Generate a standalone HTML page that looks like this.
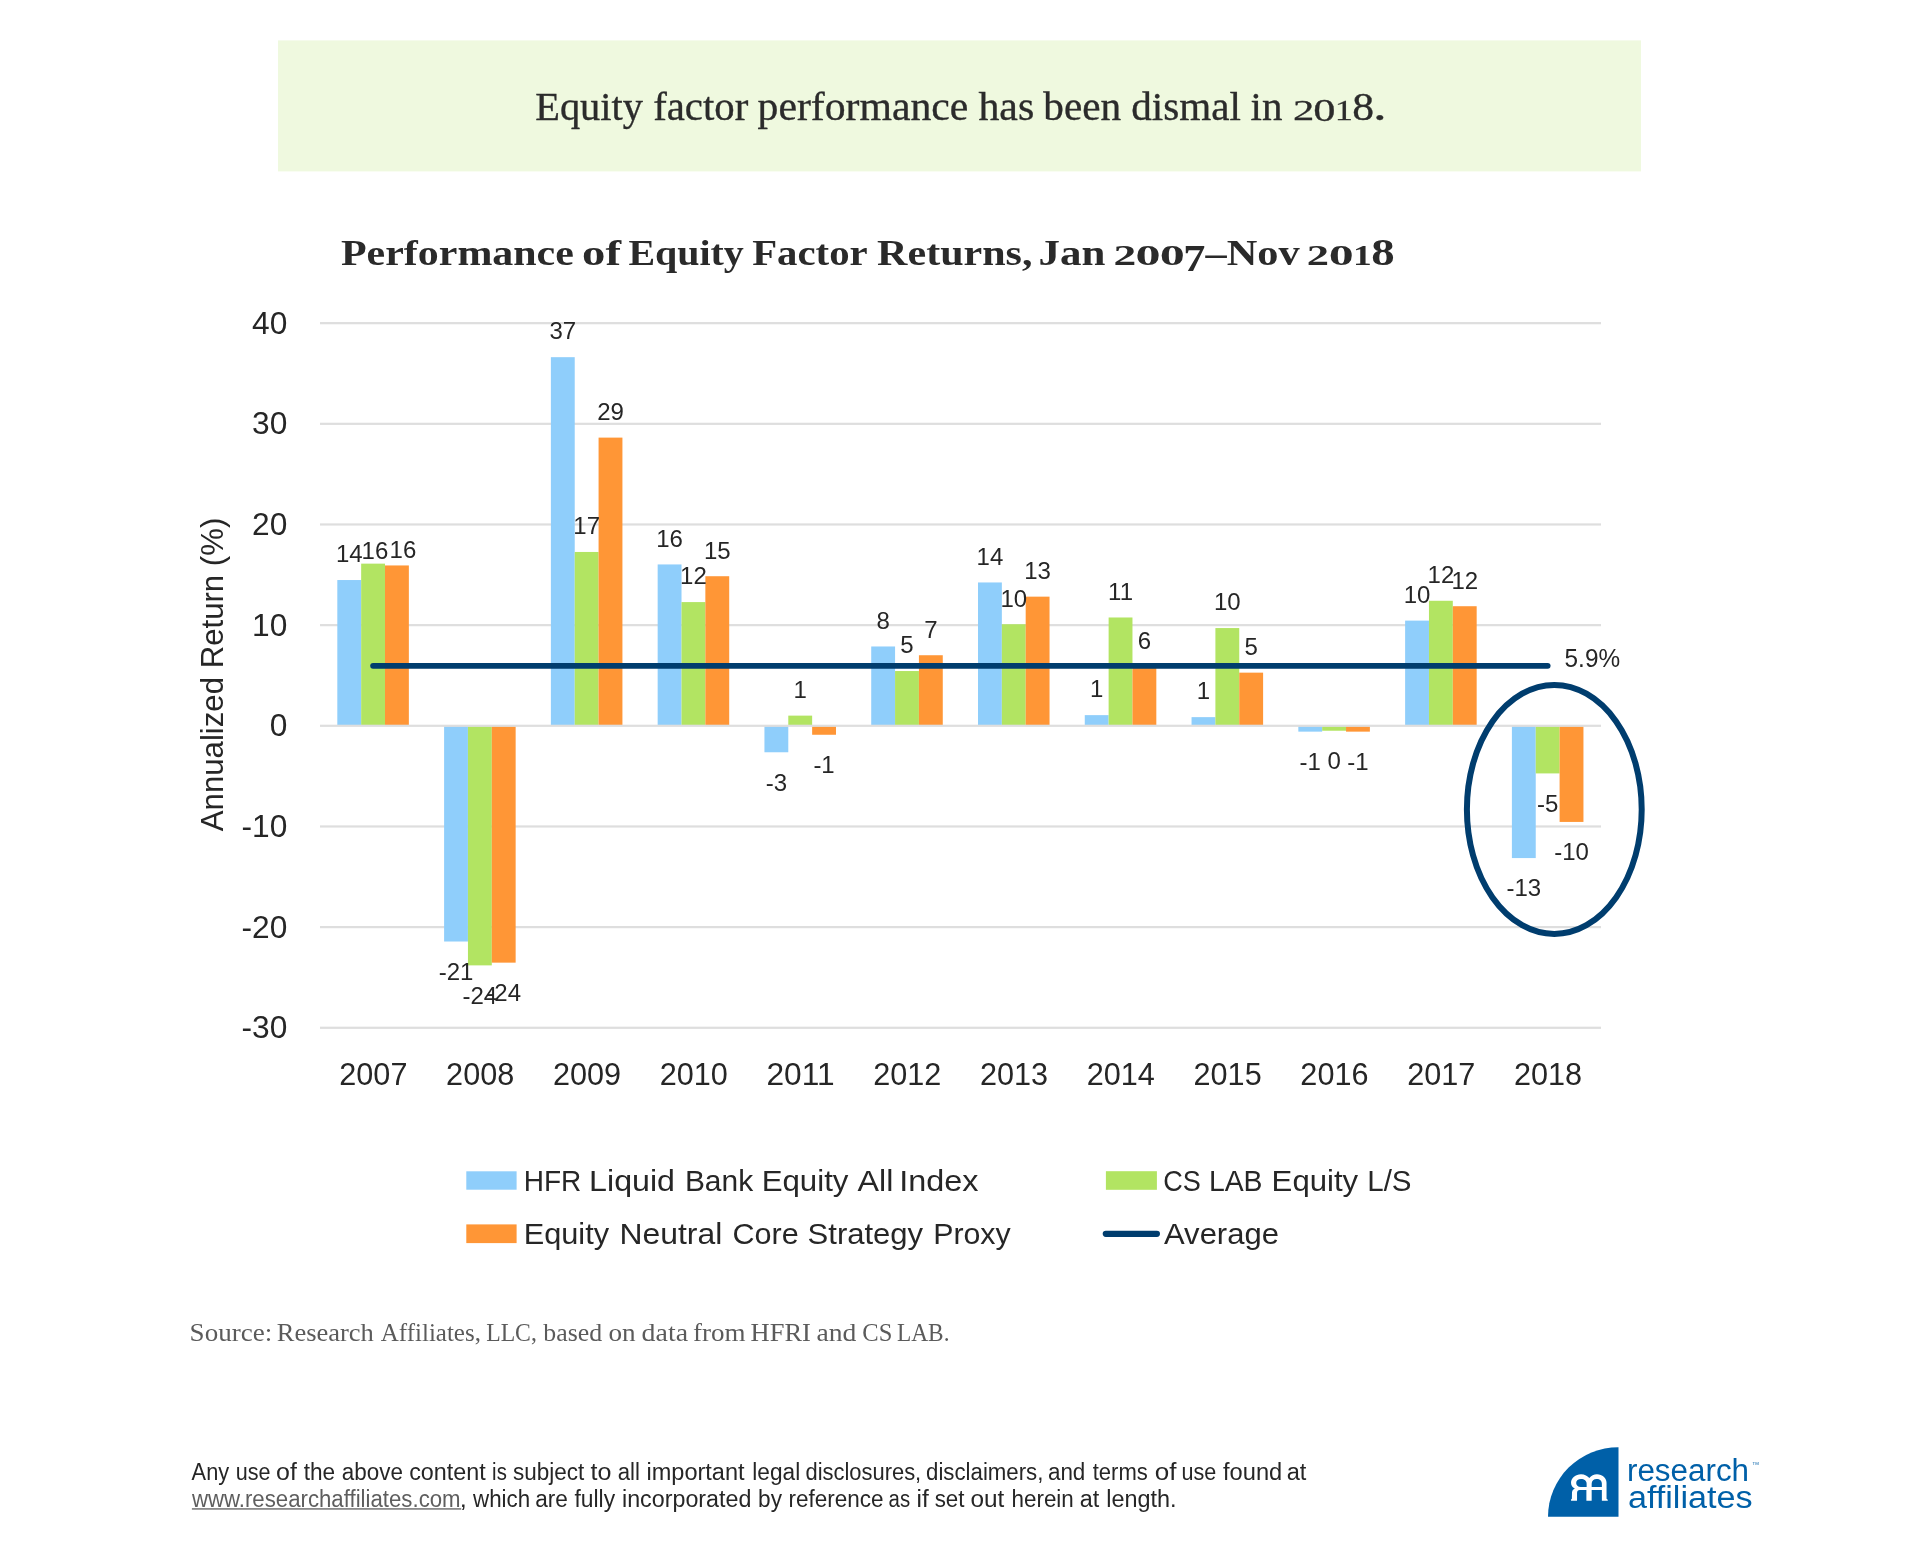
<!DOCTYPE html><html><head><meta charset="utf-8"><title>Performance of Equity Factor Returns</title><style>html,body{margin:0;padding:0;background:#fff;width:1920px;height:1546px;overflow:hidden}svg{display:block;will-change:transform}</style></head><body>
<svg width="1920" height="1546" viewBox="0 0 1920 1546">
<rect x="278" y="40.4" width="1363" height="131" fill="#eff9df"/>
<text x="535.24" y="120" font-family="'Liberation Serif', serif" font-size="40" font-weight="normal" fill="#2b2b2b" textLength="107.73" lengthAdjust="spacingAndGlyphs" stroke="#2b2b2b" stroke-width="0.35">Equity</text>
<text x="653.18" y="120" font-family="'Liberation Serif', serif" font-size="40" font-weight="normal" fill="#2b2b2b" textLength="95.09" lengthAdjust="spacingAndGlyphs" stroke="#2b2b2b" stroke-width="0.35">factor</text>
<text x="757.56" y="120" font-family="'Liberation Serif', serif" font-size="40" font-weight="normal" fill="#2b2b2b" textLength="210.78" lengthAdjust="spacingAndGlyphs" stroke="#2b2b2b" stroke-width="0.35">performance</text>
<text x="978.4" y="120" font-family="'Liberation Serif', serif" font-size="40" font-weight="normal" fill="#2b2b2b" textLength="55.79" lengthAdjust="spacingAndGlyphs" stroke="#2b2b2b" stroke-width="0.35">has</text>
<text x="1043.3" y="120" font-family="'Liberation Serif', serif" font-size="40" font-weight="normal" fill="#2b2b2b" textLength="77.83" lengthAdjust="spacingAndGlyphs" stroke="#2b2b2b" stroke-width="0.35">been</text>
<text x="1131.27" y="120" font-family="'Liberation Serif', serif" font-size="40" font-weight="normal" fill="#2b2b2b" textLength="109.62" lengthAdjust="spacingAndGlyphs" stroke="#2b2b2b" stroke-width="0.35">dismal</text>
<text x="1250.58" y="120" font-family="'Liberation Serif', serif" font-size="40" font-weight="normal" fill="#2b2b2b" textLength="31.85" lengthAdjust="spacingAndGlyphs" stroke="#2b2b2b" stroke-width="0.35">in</text>
<text x="1373.08" y="120" font-family="'Liberation Serif', serif" font-size="40" font-weight="normal" fill="#2b2b2b" textLength="13.75" lengthAdjust="spacingAndGlyphs" stroke="#2b2b2b" stroke-width="0.35">.</text>
<text x="341.0" y="264.8" font-family="'Liberation Serif', serif" font-size="36" font-weight="bold" fill="#2a2a2a" textLength="232.84" lengthAdjust="spacingAndGlyphs" >Performance</text>
<text x="582.1" y="264.8" font-family="'Liberation Serif', serif" font-size="36" font-weight="bold" fill="#2a2a2a" textLength="38.9" lengthAdjust="spacingAndGlyphs" >of</text>
<text x="628.4" y="264.8" font-family="'Liberation Serif', serif" font-size="36" font-weight="bold" fill="#2a2a2a" textLength="115.45" lengthAdjust="spacingAndGlyphs" >Equity</text>
<text x="752.2" y="264.8" font-family="'Liberation Serif', serif" font-size="36" font-weight="bold" fill="#2a2a2a" textLength="115.46" lengthAdjust="spacingAndGlyphs" >Factor</text>
<text x="877.1" y="264.8" font-family="'Liberation Serif', serif" font-size="36" font-weight="bold" fill="#2a2a2a" textLength="155.37" lengthAdjust="spacingAndGlyphs" >Returns,</text>
<text x="1038.51" y="264.8" font-family="'Liberation Serif', serif" font-size="36" font-weight="bold" fill="#2a2a2a" textLength="66.83" lengthAdjust="spacingAndGlyphs" >Jan</text>
<text x="1205.6" y="264.8" font-family="'Liberation Serif', serif" font-size="36" font-weight="bold" fill="#2a2a2a" textLength="94.1" lengthAdjust="spacingAndGlyphs" >–Nov</text>
<text stroke="#2b2b2b" stroke-width="0.35" transform="translate(1292.93,119.80) scale(1.0664,0.7438)" font-family="'Liberation Serif', serif" font-size="40" font-weight="normal" fill="#2b2b2b">2</text>
<text stroke="#2b2b2b" stroke-width="0.35" transform="translate(1313.21,120.50) scale(1.1119,0.7743)" font-family="'Liberation Serif', serif" font-size="40" font-weight="normal" fill="#2b2b2b">0</text>
<text stroke="#2b2b2b" stroke-width="0.35" transform="translate(1334.70,119.80) scale(0.9090,0.7460)" font-family="'Liberation Serif', serif" font-size="40" font-weight="normal" fill="#2b2b2b">1</text>
<text stroke="#2b2b2b" stroke-width="0.35" transform="translate(1352.14,120.40) scale(1.0912,1.0225)" font-family="'Liberation Serif', serif" font-size="40" font-weight="normal" fill="#2b2b2b">8</text>
<text transform="translate(1113.59,264.90) scale(1.2649,0.7971)" font-family="'Liberation Serif', serif" font-size="36" font-weight="bold" fill="#2a2a2a">2</text>
<text transform="translate(1135.59,265.31) scale(1.3927,0.8109)" font-family="'Liberation Serif', serif" font-size="36" font-weight="bold" fill="#2a2a2a">0</text>
<text transform="translate(1159.69,265.31) scale(1.3895,0.8109)" font-family="'Liberation Serif', serif" font-size="36" font-weight="bold" fill="#2a2a2a">0</text>
<text transform="translate(1183.37,271.10) scale(1.2281,1.0394)" font-family="'Liberation Serif', serif" font-size="36" font-weight="bold" fill="#2a2a2a">7</text>
<text transform="translate(1306.73,264.90) scale(1.2382,0.7971)" font-family="'Liberation Serif', serif" font-size="36" font-weight="bold" fill="#2a2a2a">2</text>
<text transform="translate(1328.80,265.22) scale(1.3829,0.8068)" font-family="'Liberation Serif', serif" font-size="36" font-weight="bold" fill="#2a2a2a">0</text>
<text transform="translate(1353.00,264.90) scale(1.0412,0.7995)" font-family="'Liberation Serif', serif" font-size="36" font-weight="bold" fill="#2a2a2a">1</text>
<text transform="translate(1371.15,265.33) scale(1.3005,1.0579)" font-family="'Liberation Serif', serif" font-size="36" font-weight="bold" fill="#2a2a2a">8</text>
<rect x="320" y="322.06" width="1281" height="2.2" fill="#dedede"/>
<rect x="320" y="422.72" width="1281" height="2.2" fill="#dedede"/>
<rect x="320" y="523.38" width="1281" height="2.2" fill="#dedede"/>
<rect x="320" y="624.04" width="1281" height="2.2" fill="#dedede"/>
<rect x="320" y="825.36" width="1281" height="2.2" fill="#dedede"/>
<rect x="320" y="926.02" width="1281" height="2.2" fill="#dedede"/>
<rect x="320" y="1026.68" width="1281" height="2.2" fill="#dedede"/>
<text x="287.3" y="333.76" font-family="'Liberation Sans', sans-serif" font-size="31.7" fill="#262626" text-anchor="end">40</text>
<text x="287.3" y="434.42" font-family="'Liberation Sans', sans-serif" font-size="31.7" fill="#262626" text-anchor="end">30</text>
<text x="287.3" y="535.08" font-family="'Liberation Sans', sans-serif" font-size="31.7" fill="#262626" text-anchor="end">20</text>
<text x="287.3" y="635.74" font-family="'Liberation Sans', sans-serif" font-size="31.7" fill="#262626" text-anchor="end">10</text>
<text x="287.3" y="736.40" font-family="'Liberation Sans', sans-serif" font-size="31.7" fill="#262626" text-anchor="end">0</text>
<text x="287.3" y="837.06" font-family="'Liberation Sans', sans-serif" font-size="31.7" fill="#262626" text-anchor="end">-10</text>
<text x="287.3" y="937.72" font-family="'Liberation Sans', sans-serif" font-size="31.7" fill="#262626" text-anchor="end">-20</text>
<text x="287.3" y="1038.38" font-family="'Liberation Sans', sans-serif" font-size="31.7" fill="#262626" text-anchor="end">-30</text>
<text transform="translate(223.3,0) rotate(-90)" x="-831.20" y="0" font-family="'Liberation Sans', sans-serif" font-size="31" fill="#262626" textLength="313.5" lengthAdjust="spacingAndGlyphs">Annualized Return (%)</text>
<rect x="337.31" y="580.04" width="23.85" height="145.76" fill="#8fcefb"/>
<rect x="361.16" y="563.64" width="23.85" height="162.16" fill="#b2e462"/>
<rect x="385.01" y="565.45" width="23.85" height="160.35" fill="#ff9636"/>
<rect x="444.10" y="725.80" width="23.85" height="215.71" fill="#8fcefb"/>
<rect x="467.95" y="725.80" width="23.85" height="239.57" fill="#b2e462"/>
<rect x="491.80" y="725.80" width="23.85" height="236.85" fill="#ff9636"/>
<rect x="550.88" y="357.18" width="23.85" height="368.62" fill="#8fcefb"/>
<rect x="574.73" y="551.96" width="23.85" height="173.84" fill="#b2e462"/>
<rect x="598.58" y="437.61" width="23.85" height="288.19" fill="#ff9636"/>
<rect x="657.66" y="564.44" width="23.85" height="161.36" fill="#8fcefb"/>
<rect x="681.51" y="602.09" width="23.85" height="123.71" fill="#b2e462"/>
<rect x="705.36" y="576.22" width="23.85" height="149.58" fill="#ff9636"/>
<rect x="764.44" y="725.80" width="23.85" height="26.47" fill="#8fcefb"/>
<rect x="788.29" y="715.63" width="23.85" height="10.17" fill="#b2e462"/>
<rect x="812.14" y="725.80" width="23.85" height="8.96" fill="#ff9636"/>
<rect x="871.22" y="646.48" width="23.85" height="79.32" fill="#8fcefb"/>
<rect x="895.07" y="671.04" width="23.85" height="54.76" fill="#b2e462"/>
<rect x="918.92" y="655.24" width="23.85" height="70.56" fill="#ff9636"/>
<rect x="978.00" y="582.46" width="23.85" height="143.34" fill="#8fcefb"/>
<rect x="1001.85" y="624.23" width="23.85" height="101.57" fill="#b2e462"/>
<rect x="1025.69" y="596.65" width="23.85" height="129.15" fill="#ff9636"/>
<rect x="1084.77" y="715.13" width="23.85" height="10.67" fill="#8fcefb"/>
<rect x="1108.62" y="617.49" width="23.85" height="108.31" fill="#b2e462"/>
<rect x="1132.47" y="666.21" width="23.85" height="59.59" fill="#ff9636"/>
<rect x="1191.55" y="717.14" width="23.85" height="8.66" fill="#8fcefb"/>
<rect x="1215.40" y="628.06" width="23.85" height="97.74" fill="#b2e462"/>
<rect x="1239.25" y="672.65" width="23.85" height="53.15" fill="#ff9636"/>
<rect x="1298.33" y="725.80" width="23.85" height="5.84" fill="#8fcefb"/>
<rect x="1322.18" y="725.80" width="23.85" height="4.93" fill="#b2e462"/>
<rect x="1346.03" y="725.80" width="23.85" height="5.84" fill="#ff9636"/>
<rect x="1405.12" y="620.61" width="23.85" height="105.19" fill="#8fcefb"/>
<rect x="1428.96" y="600.78" width="23.85" height="125.02" fill="#b2e462"/>
<rect x="1452.82" y="606.22" width="23.85" height="119.58" fill="#ff9636"/>
<rect x="1511.89" y="725.80" width="23.85" height="132.27" fill="#8fcefb"/>
<rect x="1535.74" y="725.80" width="23.85" height="47.61" fill="#b2e462"/>
<rect x="1559.60" y="725.80" width="23.85" height="96.13" fill="#ff9636"/>
<rect x="320" y="724.70" width="1281" height="2.2" fill="#dedede"/>
<line x1="373.09" y1="665.85" x2="1547.67" y2="665.85" stroke="#003d6e" stroke-width="5.8" stroke-linecap="round"/>
<text x="349.24" y="562.34" font-family="'Liberation Sans', sans-serif" font-size="24" fill="#262626" text-anchor="middle">14</text>
<text x="374.95" y="558.60" font-family="'Liberation Sans', sans-serif" font-size="24" fill="#262626" text-anchor="middle">16</text>
<text x="402.90" y="557.90" font-family="'Liberation Sans', sans-serif" font-size="24" fill="#262626" text-anchor="middle">16</text>
<text x="456.02" y="979.81" font-family="'Liberation Sans', sans-serif" font-size="24" fill="#262626" text-anchor="middle">-21</text>
<text x="479.87" y="1003.67" font-family="'Liberation Sans', sans-serif" font-size="24" fill="#262626" text-anchor="middle">-24</text>
<text x="503.72" y="1000.95" font-family="'Liberation Sans', sans-serif" font-size="24" fill="#262626" text-anchor="middle">-24</text>
<text x="562.80" y="339.48" font-family="'Liberation Sans', sans-serif" font-size="24" fill="#262626" text-anchor="middle">37</text>
<text x="586.65" y="534.26" font-family="'Liberation Sans', sans-serif" font-size="24" fill="#262626" text-anchor="middle">17</text>
<text x="610.50" y="419.91" font-family="'Liberation Sans', sans-serif" font-size="24" fill="#262626" text-anchor="middle">29</text>
<text x="669.58" y="546.74" font-family="'Liberation Sans', sans-serif" font-size="24" fill="#262626" text-anchor="middle">16</text>
<text x="693.43" y="584.39" font-family="'Liberation Sans', sans-serif" font-size="24" fill="#262626" text-anchor="middle">12</text>
<text x="717.28" y="558.52" font-family="'Liberation Sans', sans-serif" font-size="24" fill="#262626" text-anchor="middle">15</text>
<text x="776.36" y="790.57" font-family="'Liberation Sans', sans-serif" font-size="24" fill="#262626" text-anchor="middle">-3</text>
<text x="800.21" y="697.93" font-family="'Liberation Sans', sans-serif" font-size="24" fill="#262626" text-anchor="middle">1</text>
<text x="824.06" y="773.06" font-family="'Liberation Sans', sans-serif" font-size="24" fill="#262626" text-anchor="middle">-1</text>
<text x="883.14" y="628.78" font-family="'Liberation Sans', sans-serif" font-size="24" fill="#262626" text-anchor="middle">8</text>
<text x="906.99" y="653.34" font-family="'Liberation Sans', sans-serif" font-size="24" fill="#262626" text-anchor="middle">5</text>
<text x="930.84" y="637.54" font-family="'Liberation Sans', sans-serif" font-size="24" fill="#262626" text-anchor="middle">7</text>
<text x="989.92" y="564.76" font-family="'Liberation Sans', sans-serif" font-size="24" fill="#262626" text-anchor="middle">14</text>
<text x="1013.77" y="606.53" font-family="'Liberation Sans', sans-serif" font-size="24" fill="#262626" text-anchor="middle">10</text>
<text x="1037.62" y="578.95" font-family="'Liberation Sans', sans-serif" font-size="24" fill="#262626" text-anchor="middle">13</text>
<text x="1096.70" y="697.43" font-family="'Liberation Sans', sans-serif" font-size="24" fill="#262626" text-anchor="middle">1</text>
<text x="1120.55" y="599.79" font-family="'Liberation Sans', sans-serif" font-size="24" fill="#262626" text-anchor="middle">11</text>
<text x="1144.40" y="648.51" font-family="'Liberation Sans', sans-serif" font-size="24" fill="#262626" text-anchor="middle">6</text>
<text x="1203.48" y="699.44" font-family="'Liberation Sans', sans-serif" font-size="24" fill="#262626" text-anchor="middle">1</text>
<text x="1227.33" y="610.36" font-family="'Liberation Sans', sans-serif" font-size="24" fill="#262626" text-anchor="middle">10</text>
<text x="1251.18" y="654.95" font-family="'Liberation Sans', sans-serif" font-size="24" fill="#262626" text-anchor="middle">5</text>
<text x="1310.26" y="769.94" font-family="'Liberation Sans', sans-serif" font-size="24" fill="#262626" text-anchor="middle">-1</text>
<text x="1334.11" y="769.03" font-family="'Liberation Sans', sans-serif" font-size="24" fill="#262626" text-anchor="middle">0</text>
<text x="1357.96" y="769.94" font-family="'Liberation Sans', sans-serif" font-size="24" fill="#262626" text-anchor="middle">-1</text>
<text x="1417.04" y="602.91" font-family="'Liberation Sans', sans-serif" font-size="24" fill="#262626" text-anchor="middle">10</text>
<text x="1440.89" y="583.08" font-family="'Liberation Sans', sans-serif" font-size="24" fill="#262626" text-anchor="middle">12</text>
<text x="1464.74" y="588.52" font-family="'Liberation Sans', sans-serif" font-size="24" fill="#262626" text-anchor="middle">12</text>
<text x="1523.82" y="896.37" font-family="'Liberation Sans', sans-serif" font-size="24" fill="#262626" text-anchor="middle">-13</text>
<text x="1547.67" y="811.71" font-family="'Liberation Sans', sans-serif" font-size="24" fill="#262626" text-anchor="middle">-5</text>
<text x="1571.52" y="860.23" font-family="'Liberation Sans', sans-serif" font-size="24" fill="#262626" text-anchor="middle">-10</text>
<text x="373.39" y="1085" font-family="'Liberation Sans', sans-serif" font-size="31.9" fill="#262626" text-anchor="middle" textLength="68.1" lengthAdjust="spacingAndGlyphs">2007</text>
<text x="480.17" y="1085" font-family="'Liberation Sans', sans-serif" font-size="31.9" fill="#262626" text-anchor="middle" textLength="68.1" lengthAdjust="spacingAndGlyphs">2008</text>
<text x="586.95" y="1085" font-family="'Liberation Sans', sans-serif" font-size="31.9" fill="#262626" text-anchor="middle" textLength="68.1" lengthAdjust="spacingAndGlyphs">2009</text>
<text x="693.73" y="1085" font-family="'Liberation Sans', sans-serif" font-size="31.9" fill="#262626" text-anchor="middle" textLength="68.1" lengthAdjust="spacingAndGlyphs">2010</text>
<text x="800.51" y="1085" font-family="'Liberation Sans', sans-serif" font-size="31.9" fill="#262626" text-anchor="middle" textLength="68.1" lengthAdjust="spacingAndGlyphs">2011</text>
<text x="907.29" y="1085" font-family="'Liberation Sans', sans-serif" font-size="31.9" fill="#262626" text-anchor="middle" textLength="68.1" lengthAdjust="spacingAndGlyphs">2012</text>
<text x="1014.07" y="1085" font-family="'Liberation Sans', sans-serif" font-size="31.9" fill="#262626" text-anchor="middle" textLength="68.1" lengthAdjust="spacingAndGlyphs">2013</text>
<text x="1120.85" y="1085" font-family="'Liberation Sans', sans-serif" font-size="31.9" fill="#262626" text-anchor="middle" textLength="68.1" lengthAdjust="spacingAndGlyphs">2014</text>
<text x="1227.63" y="1085" font-family="'Liberation Sans', sans-serif" font-size="31.9" fill="#262626" text-anchor="middle" textLength="68.1" lengthAdjust="spacingAndGlyphs">2015</text>
<text x="1334.41" y="1085" font-family="'Liberation Sans', sans-serif" font-size="31.9" fill="#262626" text-anchor="middle" textLength="68.1" lengthAdjust="spacingAndGlyphs">2016</text>
<text x="1441.19" y="1085" font-family="'Liberation Sans', sans-serif" font-size="31.9" fill="#262626" text-anchor="middle" textLength="68.1" lengthAdjust="spacingAndGlyphs">2017</text>
<text x="1547.97" y="1085" font-family="'Liberation Sans', sans-serif" font-size="31.9" fill="#262626" text-anchor="middle" textLength="68.1" lengthAdjust="spacingAndGlyphs">2018</text>
<text x="1564.58" y="666.8" font-family="'Liberation Sans', sans-serif" font-size="26.5" font-weight="normal" fill="#262626" textLength="55.51" lengthAdjust="spacingAndGlyphs" >5.9%</text>
<ellipse cx="1554.3" cy="809.45" rx="87.4" ry="124.45" fill="none" stroke="#003d6e" stroke-width="6"/>
<rect x="466.3" y="1171.3" width="50.3" height="18.4" fill="#8fcefb"/>
<text x="523.73" y="1190.6" font-family="'Liberation Sans', sans-serif" font-size="30" font-weight="normal" fill="#262626" textLength="57.56" lengthAdjust="spacingAndGlyphs" >HFR</text>
<text x="589.11" y="1190.6" font-family="'Liberation Sans', sans-serif" font-size="30" font-weight="normal" fill="#262626" textLength="85.87" lengthAdjust="spacingAndGlyphs" >Liquid</text>
<text x="684.9" y="1190.6" font-family="'Liberation Sans', sans-serif" font-size="30" font-weight="normal" fill="#262626" textLength="68.24" lengthAdjust="spacingAndGlyphs" >Bank</text>
<text x="761.67" y="1190.6" font-family="'Liberation Sans', sans-serif" font-size="30" font-weight="normal" fill="#262626" textLength="86.84" lengthAdjust="spacingAndGlyphs" >Equity</text>
<text x="857.5" y="1190.6" font-family="'Liberation Sans', sans-serif" font-size="30" font-weight="normal" fill="#262626" textLength="35.84" lengthAdjust="spacingAndGlyphs" >All</text>
<text x="899.26" y="1190.6" font-family="'Liberation Sans', sans-serif" font-size="30" font-weight="normal" fill="#262626" textLength="79.26" lengthAdjust="spacingAndGlyphs" >Index</text>
<rect x="466.3" y="1224.4" width="50.3" height="18.7" fill="#ff9636"/>
<text x="523.65" y="1243.7" font-family="'Liberation Sans', sans-serif" font-size="30" font-weight="normal" fill="#262626" textLength="85.45" lengthAdjust="spacingAndGlyphs" >Equity</text>
<text x="619.48" y="1243.7" font-family="'Liberation Sans', sans-serif" font-size="30" font-weight="normal" fill="#262626" textLength="102.75" lengthAdjust="spacingAndGlyphs" >Neutral</text>
<text x="732.58" y="1243.7" font-family="'Liberation Sans', sans-serif" font-size="30" font-weight="normal" fill="#262626" textLength="66.17" lengthAdjust="spacingAndGlyphs" >Core</text>
<text x="807.57" y="1243.7" font-family="'Liberation Sans', sans-serif" font-size="30" font-weight="normal" fill="#262626" textLength="115.56" lengthAdjust="spacingAndGlyphs" >Strategy</text>
<text x="933.18" y="1243.7" font-family="'Liberation Sans', sans-serif" font-size="30" font-weight="normal" fill="#262626" textLength="77.51" lengthAdjust="spacingAndGlyphs" >Proxy</text>
<rect x="1105.9" y="1171.2" width="51" height="18.6" fill="#b2e462"/>
<text x="1163.2" y="1190.6" font-family="'Liberation Sans', sans-serif" font-size="30" font-weight="normal" fill="#262626" textLength="37.63" lengthAdjust="spacingAndGlyphs" >CS</text>
<text x="1208.91" y="1190.6" font-family="'Liberation Sans', sans-serif" font-size="30" font-weight="normal" fill="#262626" textLength="53.62" lengthAdjust="spacingAndGlyphs" >LAB</text>
<text x="1271.63" y="1190.6" font-family="'Liberation Sans', sans-serif" font-size="30" font-weight="normal" fill="#262626" textLength="86.48" lengthAdjust="spacingAndGlyphs" >Equity</text>
<text x="1367.23" y="1190.6" font-family="'Liberation Sans', sans-serif" font-size="30" font-weight="normal" fill="#262626" textLength="44.28" lengthAdjust="spacingAndGlyphs" >L/S</text>
<line x1="1105.8" y1="1233.8" x2="1156.9" y2="1233.8" stroke="#003d6e" stroke-width="6.2" stroke-linecap="round"/>
<text x="1164.0" y="1243.7" font-family="'Liberation Sans', sans-serif" font-size="30" font-weight="normal" fill="#262626" textLength="114.94" lengthAdjust="spacingAndGlyphs" >Average</text>
<text x="189.64" y="1341" font-family="'Liberation Serif', serif" font-size="25" font-weight="normal" fill="#5b5b5b" textLength="82.53" lengthAdjust="spacingAndGlyphs" >Source:</text>
<text x="276.74" y="1341" font-family="'Liberation Serif', serif" font-size="25" font-weight="normal" fill="#5b5b5b" textLength="97.12" lengthAdjust="spacingAndGlyphs" >Research</text>
<text x="380.8" y="1341" font-family="'Liberation Serif', serif" font-size="25" font-weight="normal" fill="#5b5b5b" textLength="100.12" lengthAdjust="spacingAndGlyphs" >Affiliates,</text>
<text x="486.15" y="1341" font-family="'Liberation Serif', serif" font-size="25" font-weight="normal" fill="#5b5b5b" textLength="50.74" lengthAdjust="spacingAndGlyphs" >LLC,</text>
<text x="543.3" y="1341" font-family="'Liberation Serif', serif" font-size="25" font-weight="normal" fill="#5b5b5b" textLength="58.82" lengthAdjust="spacingAndGlyphs" >based</text>
<text x="608.41" y="1341" font-family="'Liberation Serif', serif" font-size="25" font-weight="normal" fill="#5b5b5b" textLength="27.17" lengthAdjust="spacingAndGlyphs" >on</text>
<text x="641.58" y="1341" font-family="'Liberation Serif', serif" font-size="25" font-weight="normal" fill="#5b5b5b" textLength="46.43" lengthAdjust="spacingAndGlyphs" >data</text>
<text x="693.02" y="1341" font-family="'Liberation Serif', serif" font-size="25" font-weight="normal" fill="#5b5b5b" textLength="52.54" lengthAdjust="spacingAndGlyphs" >from</text>
<text x="750.64" y="1341" font-family="'Liberation Serif', serif" font-size="25" font-weight="normal" fill="#5b5b5b" textLength="60.28" lengthAdjust="spacingAndGlyphs" >HFRI</text>
<text x="816.49" y="1341" font-family="'Liberation Serif', serif" font-size="25" font-weight="normal" fill="#5b5b5b" textLength="39.93" lengthAdjust="spacingAndGlyphs" >and</text>
<text x="862.32" y="1341" font-family="'Liberation Serif', serif" font-size="25" font-weight="normal" fill="#5b5b5b" textLength="30.05" lengthAdjust="spacingAndGlyphs" >CS</text>
<text x="896.97" y="1341" font-family="'Liberation Serif', serif" font-size="25" font-weight="normal" fill="#5b5b5b" textLength="52.5" lengthAdjust="spacingAndGlyphs" >LAB.</text>
<text x="191.6" y="1480" font-family="'Liberation Sans', sans-serif" font-size="23" font-weight="normal" fill="#262626" textLength="37.56" lengthAdjust="spacingAndGlyphs" >Any</text>
<text x="235.66" y="1480" font-family="'Liberation Sans', sans-serif" font-size="23" font-weight="normal" fill="#262626" textLength="34.76" lengthAdjust="spacingAndGlyphs" >use</text>
<text x="276.12" y="1480" font-family="'Liberation Sans', sans-serif" font-size="23" font-weight="normal" fill="#262626" textLength="20.79" lengthAdjust="spacingAndGlyphs" >of</text>
<text x="303.75" y="1480" font-family="'Liberation Sans', sans-serif" font-size="23" font-weight="normal" fill="#262626" textLength="31.42" lengthAdjust="spacingAndGlyphs" >the</text>
<text x="341.83" y="1480" font-family="'Liberation Sans', sans-serif" font-size="23" font-weight="normal" fill="#262626" textLength="61.03" lengthAdjust="spacingAndGlyphs" >above</text>
<text x="409.19" y="1480" font-family="'Liberation Sans', sans-serif" font-size="23" font-weight="normal" fill="#262626" textLength="76.47" lengthAdjust="spacingAndGlyphs" >content</text>
<text x="492.12" y="1480" font-family="'Liberation Sans', sans-serif" font-size="23" font-weight="normal" fill="#262626" textLength="14.69" lengthAdjust="spacingAndGlyphs" >is</text>
<text x="513.02" y="1480" font-family="'Liberation Sans', sans-serif" font-size="23" font-weight="normal" fill="#262626" textLength="71.26" lengthAdjust="spacingAndGlyphs" >subject</text>
<text x="590.6" y="1480" font-family="'Liberation Sans', sans-serif" font-size="23" font-weight="normal" fill="#262626" textLength="20.89" lengthAdjust="spacingAndGlyphs" >to</text>
<text x="617.79" y="1480" font-family="'Liberation Sans', sans-serif" font-size="23" font-weight="normal" fill="#262626" textLength="22.19" lengthAdjust="spacingAndGlyphs" >all</text>
<text x="646.48" y="1480" font-family="'Liberation Sans', sans-serif" font-size="23" font-weight="normal" fill="#262626" textLength="98.1" lengthAdjust="spacingAndGlyphs" >important</text>
<text x="752.32" y="1480" font-family="'Liberation Sans', sans-serif" font-size="23" font-weight="normal" fill="#262626" textLength="47.87" lengthAdjust="spacingAndGlyphs" >legal</text>
<text x="805.45" y="1480" font-family="'Liberation Sans', sans-serif" font-size="23" font-weight="normal" fill="#262626" textLength="115.78" lengthAdjust="spacingAndGlyphs" >disclosures,</text>
<text x="926.03" y="1480" font-family="'Liberation Sans', sans-serif" font-size="23" font-weight="normal" fill="#262626" textLength="117.41" lengthAdjust="spacingAndGlyphs" >disclaimers,</text>
<text x="1047.93" y="1480" font-family="'Liberation Sans', sans-serif" font-size="23" font-weight="normal" fill="#262626" textLength="37.42" lengthAdjust="spacingAndGlyphs" >and</text>
<text x="1092.7" y="1480" font-family="'Liberation Sans', sans-serif" font-size="23" font-weight="normal" fill="#262626" textLength="55.08" lengthAdjust="spacingAndGlyphs" >terms</text>
<text x="1154.77" y="1480" font-family="'Liberation Sans', sans-serif" font-size="23" font-weight="normal" fill="#262626" textLength="21.69" lengthAdjust="spacingAndGlyphs" >of</text>
<text x="1181.56" y="1480" font-family="'Liberation Sans', sans-serif" font-size="23" font-weight="normal" fill="#262626" textLength="34.76" lengthAdjust="spacingAndGlyphs" >use</text>
<text x="1223.0" y="1480" font-family="'Liberation Sans', sans-serif" font-size="23" font-weight="normal" fill="#262626" textLength="59.21" lengthAdjust="spacingAndGlyphs" >found</text>
<text x="1286.67" y="1480" font-family="'Liberation Sans', sans-serif" font-size="23" font-weight="normal" fill="#262626" textLength="19.72" lengthAdjust="spacingAndGlyphs" >at</text>
<text x="191.9" y="1506.7" font-family="'Liberation Sans', sans-serif" font-size="23" font-weight="normal" fill="#5e5e5e" textLength="268.71" lengthAdjust="spacingAndGlyphs" >www.researchaffiliates.com</text>
<rect x="191.9" y="1508" width="269.3" height="1.8" fill="#8a8a8a"/>
<text x="459.8" y="1506.7" font-family="'Liberation Sans', sans-serif" font-size="23" font-weight="normal" fill="#262626" textLength="7.03" lengthAdjust="spacingAndGlyphs" >,</text>
<text x="473.0" y="1506.7" font-family="'Liberation Sans', sans-serif" font-size="23" font-weight="normal" fill="#262626" textLength="57.16" lengthAdjust="spacingAndGlyphs" >which</text>
<text x="535.27" y="1506.7" font-family="'Liberation Sans', sans-serif" font-size="23" font-weight="normal" fill="#262626" textLength="32.66" lengthAdjust="spacingAndGlyphs" >are</text>
<text x="574.5" y="1506.7" font-family="'Liberation Sans', sans-serif" font-size="23" font-weight="normal" fill="#262626" textLength="40.61" lengthAdjust="spacingAndGlyphs" >fully</text>
<text x="621.99" y="1506.7" font-family="'Liberation Sans', sans-serif" font-size="23" font-weight="normal" fill="#262626" textLength="129.39" lengthAdjust="spacingAndGlyphs" >incorporated</text>
<text x="758.12" y="1506.7" font-family="'Liberation Sans', sans-serif" font-size="23" font-weight="normal" fill="#262626" textLength="23.87" lengthAdjust="spacingAndGlyphs" >by</text>
<text x="788.52" y="1506.7" font-family="'Liberation Sans', sans-serif" font-size="23" font-weight="normal" fill="#262626" textLength="95.13" lengthAdjust="spacingAndGlyphs" >reference</text>
<text x="888.61" y="1506.7" font-family="'Liberation Sans', sans-serif" font-size="23" font-weight="normal" fill="#262626" textLength="21.54" lengthAdjust="spacingAndGlyphs" >as</text>
<text x="916.64" y="1506.7" font-family="'Liberation Sans', sans-serif" font-size="23" font-weight="normal" fill="#262626" textLength="12.23" lengthAdjust="spacingAndGlyphs" >if</text>
<text x="934.63" y="1506.7" font-family="'Liberation Sans', sans-serif" font-size="23" font-weight="normal" fill="#262626" textLength="29.79" lengthAdjust="spacingAndGlyphs" >set</text>
<text x="970.54" y="1506.7" font-family="'Liberation Sans', sans-serif" font-size="23" font-weight="normal" fill="#262626" textLength="33.84" lengthAdjust="spacingAndGlyphs" >out</text>
<text x="1011.53" y="1506.7" font-family="'Liberation Sans', sans-serif" font-size="23" font-weight="normal" fill="#262626" textLength="62.29" lengthAdjust="spacingAndGlyphs" >herein</text>
<text x="1079.68" y="1506.7" font-family="'Liberation Sans', sans-serif" font-size="23" font-weight="normal" fill="#262626" textLength="19.51" lengthAdjust="spacingAndGlyphs" >at</text>
<text x="1106.28" y="1506.7" font-family="'Liberation Sans', sans-serif" font-size="23" font-weight="normal" fill="#262626" textLength="70.32" lengthAdjust="spacingAndGlyphs" >length.</text>
<path d="M1548,1516.8 A70.5,69.6 0 0 1 1618.5,1447.2 L1618.5,1516.8 Z" fill="#0060a8"/>
<path transform="translate(1565,1468) scale(0.02458)" d="M245,1330 L245,1280 L280,1250 L285,980 Q290,880 400,830 C300,790 245,700 245,600 C245,400 430,250 650,250 C800,250 930,320 990,410 C1060,310 1180,250 1300,250 C1520,250 1690,400 1690,600 L1690,1250 L1740,1290 L1740,1330 L1500,1330 L1500,900 L1085,900 L1085,1330 L870,1330 L870,900 L600,900 Q490,910 490,1020 L490,1330 Z M880,770 L650,770 C520,770 455,700 455,610 C455,510 540,450 650,450 C790,450 880,520 880,640 Z M1500,770 L1085,770 L1085,640 C1085,520 1170,450 1290,450 C1420,450 1500,530 1500,640 Z" fill="#fff" fill-rule="evenodd"/>
<text x="1626.98" y="1481.4" font-family="'Liberation Sans', sans-serif" font-size="31" font-weight="normal" fill="#0060a8" textLength="122.05" lengthAdjust="spacingAndGlyphs" >research</text>
<text x="1627.9" y="1507.7" font-family="'Liberation Sans', sans-serif" font-size="31" font-weight="normal" fill="#0060a8" textLength="124.79" lengthAdjust="spacingAndGlyphs" >affiliates</text>
<text x="1752.6" y="1465.1" font-family="'Liberation Sans', sans-serif" font-size="4.3" fill="#0060a8" textLength="6.3" lengthAdjust="spacingAndGlyphs">TM</text>
</svg></body></html>
